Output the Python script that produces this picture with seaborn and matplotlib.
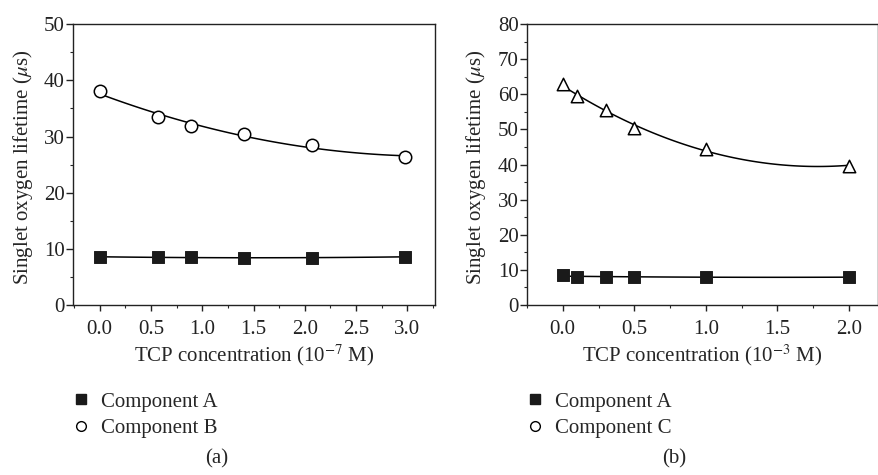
import numpy as np
import matplotlib
matplotlib.use("Agg")
import matplotlib.pyplot as plt
import seaborn as sns
from matplotlib.lines import Line2D
from matplotlib.ticker import MultipleLocator, FormatStrFormatter

# panel (a): TCP concentration in 1e-7 M
conc_a = [0.0, 0.57, 0.89, 1.41, 2.07, 2.98]
comp_a_a = [8.5, 8.6, 8.5, 8.3, 8.4, 8.6]
comp_b = [38.1, 33.4, 31.9, 30.4, 28.5, 26.3]

# panel (b): TCP concentration in 1e-3 M
conc_b = [0.0, 0.1, 0.3, 0.5, 1.0, 2.0]
comp_a_b = [8.4, 8.0, 8.0, 8.0, 8.0, 7.9]
comp_c = [63.0, 59.5, 55.5, 50.5, 44.5, 39.7]

sns.set_style("ticks")
plt.rcParams["font.family"] = ["Liberation Serif", "DejaVu Serif"]
plt.rcParams["mathtext.fontset"] = "stix"

fs = 15

fig = plt.figure(figsize=(8.79, 4.75), dpi=100)
ax1 = fig.add_axes([0.083, 0.358, 0.412, 0.591])
ax2 = fig.add_axes([0.5995, 0.358, 0.399, 0.591])

line_kw = dict(color="black", lw=1.1)


def draw(ax, x, ya, yb, mark_b):
    # quadratic fit curves through each series
    sns.regplot(x=x, y=yb, ax=ax, order=2, ci=None, scatter=False, truncate=True, line_kws=line_kw)
    sns.regplot(x=x, y=ya, ax=ax, order=2, ci=None, scatter=False, truncate=True, line_kws=line_kw)
    sns.scatterplot(x=x, y=yb, ax=ax, marker=mark_b, s=80, facecolor="white",
                    edgecolor="black", linewidth=1.1, zorder=3)
    sns.scatterplot(x=x, y=ya, ax=ax, marker="s", s=70, color="#1a1a1a",
                    edgecolor="#1a1a1a", zorder=3)


draw(ax1, conc_a, comp_a_a, comp_b, "o")
draw(ax2, conc_b, comp_a_b, comp_c, "^")

ax1.set_xlim(-0.26, 3.27)
ax1.set_ylim(0, 50)
ax2.set_xlim(-0.25, 2.2)
ax2.set_ylim(0, 80)

for ax in (ax1, ax2):
    ax.yaxis.set_major_locator(MultipleLocator(10))
    ax.xaxis.set_major_locator(MultipleLocator(0.5))
    ax.xaxis.set_minor_locator(MultipleLocator(0.25))
    ax.yaxis.set_minor_locator(MultipleLocator(5))
    ax.xaxis.set_major_formatter(FormatStrFormatter("%.1f"))
    ax.tick_params(which="major", direction="out", width=1, labelsize=15, colors="#222222")
    ax.tick_params(axis="x", which="major", length=4, pad=6.5)
    ax.tick_params(axis="y", which="major", length=5, pad=1)
    ax.tick_params(which="minor", direction="out", length=2.5, width=0.8)
    for s in ax.spines.values():
        s.set_linewidth(1)
        s.set_color("#222222")
    ax.set_ylabel(r"Singlet oxygen lifetime ($\mu$s)", fontsize=fs)

ax1.yaxis.set_label_coords(-0.106, 0.49)
ax2.yaxis.set_label_coords(-0.111, 0.49)
ax1.set_xlabel(r"TCP concentration (10$^{-7}$ M)", fontsize=fs, labelpad=3)
ax2.set_xlabel(r"TCP concentration (10$^{-3}$ M)", fontsize=fs, labelpad=3)

sq = Line2D([], [], ls="", marker="s", ms=7, color="#1a1a1a")
circ = Line2D([], [], ls="", marker="o", ms=7, mfc="white", mec="black", mew=1)
leg_kw = dict(loc="upper left", frameon=False, handlelength=0.8, handletextpad=0.55,
              labelspacing=0.35, borderpad=0, borderaxespad=0, fontsize=fs)
ax1.legend([sq, circ], ["Component A", "Component B"], bbox_to_anchor=(0.0, -0.31), **leg_kw)
ax2.legend([sq, circ], ["Component A", "Component C"], bbox_to_anchor=(0.0, -0.31), **leg_kw)

fig.text(0.247, 0.035, "(a)", ha="center", va="center", fontsize=fs)
fig.text(0.767, 0.035, "(b)", ha="center", va="center", fontsize=fs)

fig.savefig("out.png", dpi=100)
